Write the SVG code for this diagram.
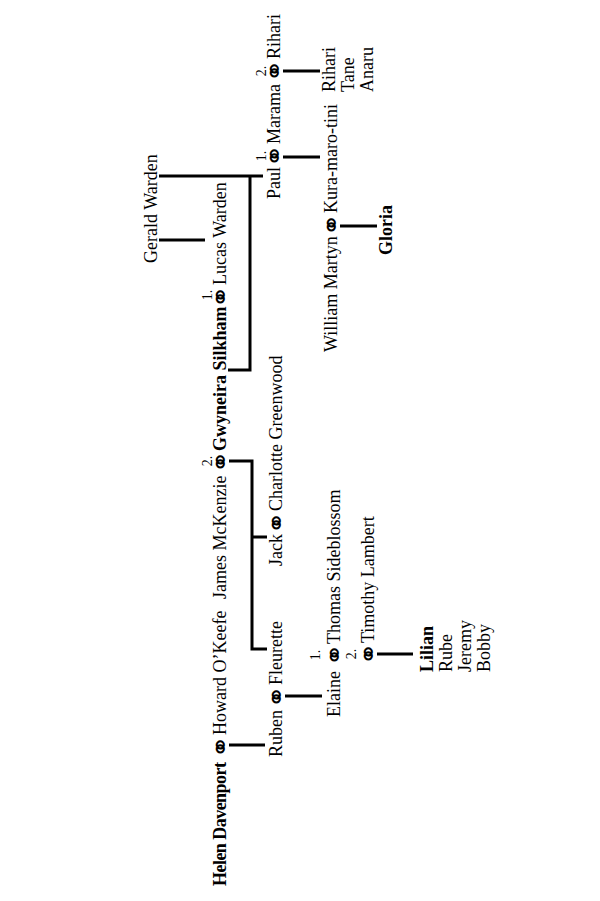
<svg xmlns="http://www.w3.org/2000/svg" width="600" height="901" viewBox="0 0 600 901">
<style>
.t{font-family:"Liberation Serif","DejaVu Serif",serif;font-size:18px;fill:#000}
.b{font-weight:bold}
.m{font-family:"DejaVu Sans",sans-serif;font-size:27px;text-anchor:middle;fill:#000}
.n{font-family:"Liberation Serif",serif;font-size:14px;text-anchor:middle;fill:#000}
.c path{stroke:#000;stroke-width:3;fill:none}
</style>
<rect width="600" height="901" fill="#fff"/>
<g transform="translate(0,901) rotate(-90)">
<g id="connectors" class="c">
<path d="M156,229 V265"/>
<path d="M440,229 V252 H252 V267 M364,252 V267"/>
<path d="M205,285 V322"/>
<path d="M247,377 V413"/>
<path d="M661,159 V205"/>
<path d="M725,159 V263 M725,250 H531 V228"/>
<path d="M744,283 V320"/>
<path d="M830,283 V320"/>
<path d="M675,340 V377"/>
</g>
<g id="helen"><text class="t b" x="15" y="226" textLength="124">Helen Davenport</text></g>
<g id="m-helen-howard"><text class="m" x="154" y="230">⚭</text></g>
<g id="howard"><text class="t" x="166" y="226">Howard O’Keefe</text></g>
<g id="ruben"><text class="t" x="144" y="282">Ruben</text></g>
<g id="m-ruben-fleurette"><text class="m" x="204" y="286">⚭</text></g>
<g id="fleurette"><text class="t" x="216" y="282">Fleurette</text></g>
<g id="james"><text class="t" x="302" y="226">James McKenzie</text></g>
<g id="m-james-gwyneira"><text class="n" x="440" y="212">2.</text><text class="m" x="439" y="230">⚭</text></g>
<g id="gwyneira"><text class="t b" x="450" y="226">Gwyneira Silkham</text></g>
<g id="m-gwyneira-lucas"><text class="n" x="606" y="212">1.</text><text class="m" x="604" y="230">⚭</text></g>
<g id="lucas"><text class="t" x="616" y="226">Lucas Warden</text></g>
<g id="gerald"><text class="t" x="638" y="157">Gerald Warden</text></g>
<g id="jack"><text class="t" x="335" y="282">Jack</text><text class="m" x="378" y="286">⚭</text><text class="t" x="390" y="282">Charlotte Greenwood</text></g>
<g id="elaine"><text class="t" x="184" y="340">Elaine</text><text class="n" x="246" y="320">1.</text><text class="m" x="246" y="344">⚭</text><text class="t" x="257" y="340">Thomas Sideblossom</text><text class="n" x="247" y="356">2.</text><text class="m" x="247" y="378">⚭</text><text class="t" x="258" y="374">Timothy Lambert</text></g>
<g id="lilian-children"><text class="t b" x="229" y="433">Lilian</text><text class="t" x="229" y="452">Rube</text><text class="t" x="229" y="471">Jeremy</text><text class="t" x="229" y="490">Bobby</text></g>
<g id="paul"><text class="t" x="702" y="280">Paul</text><text class="n" x="745" y="266">1.</text><text class="m" x="745" y="284">⚭</text><text class="t" x="757" y="280">Marama</text><text class="n" x="830" y="266">2.</text><text class="m" x="830" y="284">⚭</text><text class="t" x="842" y="280">Rihari</text></g>
<g id="william"><text class="t" x="549" y="337">William Martyn</text><text class="m" x="676" y="341">⚭</text><text class="t" x="688" y="337">Kura-maro-tini</text></g>
<g id="rihari-children"><text class="t" x="809" y="335">Rihari</text><text class="t" x="809" y="354">Tane</text><text class="t" x="809" y="373">Anaru</text></g>
<g id="gloria"><text class="t b" x="646" y="392">Gloria</text></g>
</g>
</svg>
